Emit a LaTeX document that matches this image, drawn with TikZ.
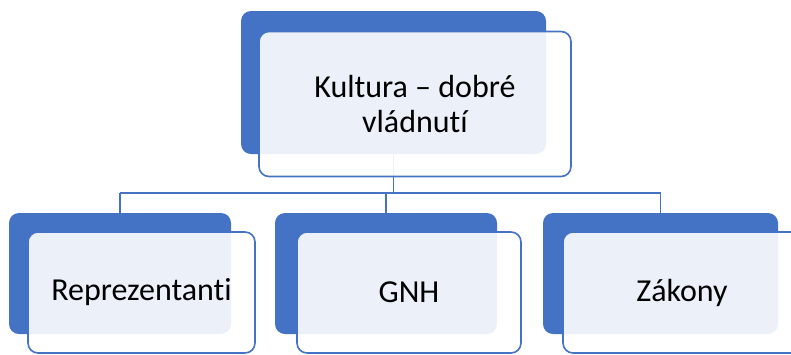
\documentclass[tikz,border=0pt]{standalone}
\usepackage{fontspec}
\setmainfont{Carlito}[Ligatures=NoCommon]
\definecolor{accent}{HTML}{4472C4}
\begin{document}
\begin{tikzpicture}[x=1pt, y=-1pt,
		back/.style={draw=none, fill=accent, rounded corners=10pt, inner sep=0pt},
		front/.style={draw=accent, line width=1.6pt, fill=white, fill opacity=0.9, text opacity=1,
			rounded corners=10pt, inner sep=0pt, align=center,
			font=\fontsize{32}{35}\selectfont},
		conn/.style={draw=accent, line width=1.8pt}]
		\useasboundingbox (0,0) rectangle (791,354);

		% Back boxes
		\node[back, minimum width=305pt, minimum height=143pt] (topback) at (393.5,82.5) {};
		\node[back, minimum width=222pt, minimum height=121pt] (leftback) at (120,273.5) {};
		\node[back, minimum width=222pt, minimum height=121pt] (midback) at (386,273.5) {};
		\node[back, minimum width=235pt, minimum height=121pt] (rightback) at (660.5,273.5) {};

		% Connectors
		\coordinate (bus) at (393.5,193);
		\draw[conn] (topback.south) -- (topback.south |- bus);
		\draw[conn] (leftback.north |- bus) -- (rightback.north |- bus);
		\foreach \n in {leftback, midback, rightback}
			\draw[conn] (\n.north |- bus) -- (\n.north);

		% Front boxes
		\node[front, minimum width=312pt, minimum height=145pt] (top) at (415,104) {Kultura -- dobré\\vládnutí};
		\node[front, minimum width=227pt, minimum height=121pt] (left) at (141.5,292.5) {Reprezentanti};
		\node[front, minimum width=224pt, minimum height=121pt] (mid) at (409,292.5) {GNH};
		\node[front, minimum width=238pt, minimum height=121pt] (right) at (682,292.5) {Zákony};
	\end{tikzpicture}
\end{document}
